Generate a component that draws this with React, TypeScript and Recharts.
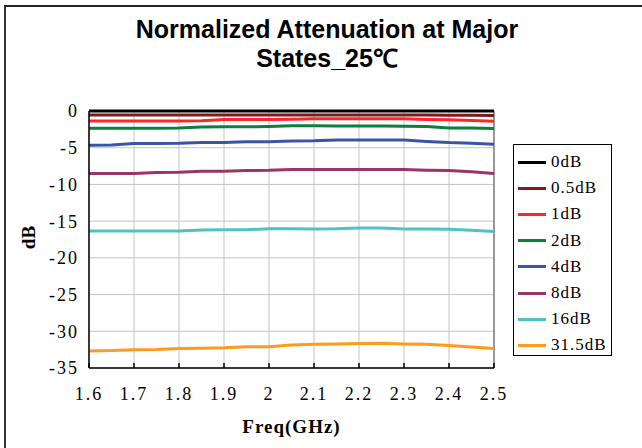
import { LineChart, Line, XAxis, YAxis, CartesianGrid, Legend, ReferenceLine, Label } from "recharts";

// frequency points (GHz)
const freqs = [1.6, 1.65, 1.7, 1.75, 1.8, 1.85, 1.9, 1.95, 2.0, 2.05, 2.1, 2.15, 2.2, 2.25, 2.3, 2.35, 2.4, 2.45, 2.5];

// normalized attenuation (dB) per state
const att0 = [0, 0, 0, 0, 0, 0, 0, 0, 0, 0, 0, 0, 0, 0, 0, 0, 0, 0, 0];
const att05 = [-0.56, -0.56, -0.56, -0.55, -0.55, -0.55, -0.55, -0.55, -0.55, -0.55, -0.55, -0.55, -0.55, -0.55, -0.55, -0.56, -0.57, -0.58, -0.6];
const att1 = [-1.35, -1.35, -1.35, -1.35, -1.35, -1.33, -1.17, -1.16, -1.15, -1.12, -1.07, -1.07, -1.07, -1.07, -1.07, -1.15, -1.2, -1.3, -1.4];
const att2 = [-2.35, -2.35, -2.35, -2.35, -2.33, -2.17, -2.16, -2.15, -2.1, -2.0, -2.02, -2.05, -2.05, -2.05, -2.06, -2.12, -2.3, -2.33, -2.4];
const att4 = [-4.66, -4.62, -4.43, -4.43, -4.4, -4.3, -4.3, -4.2, -4.2, -4.08, -4.05, -3.95, -3.94, -3.94, -3.96, -4.15, -4.3, -4.38, -4.53];
const att8 = [-8.52, -8.52, -8.5, -8.36, -8.35, -8.22, -8.2, -8.1, -8.08, -7.98, -7.98, -7.97, -7.97, -7.97, -7.98, -8.08, -8.12, -8.28, -8.5];
const att16 = [-16.35, -16.35, -16.35, -16.35, -16.33, -16.2, -16.18, -16.17, -16.05, -16.05, -16.07, -16.05, -15.92, -15.93, -16.07, -16.07, -16.1, -16.25, -16.4];
const att315 = [-32.67, -32.62, -32.5, -32.48, -32.35, -32.3, -32.25, -32.12, -32.1, -31.88, -31.75, -31.72, -31.65, -31.62, -31.72, -31.78, -31.95, -32.15, -32.35];

const seriesNames = ["0dB", "0.5dB", "1dB", "2dB", "4dB", "8dB", "16dB", "31.5dB"];
const seriesValues = [att0, att05, att1, att2, att4, att8, att16, att315];
const seriesColors = ["#000000", "#7d1a1a", "#ff2626", "#0e7d3e", "#3a55a6", "#9c3468", "#4cc4c4", "#ff9a1e"];

const xTicks = [1.6, 1.7, 1.8, 1.9, 2, 2.1, 2.2, 2.3, 2.4, 2.5];
const yTicks = [0, -5, -10, -15, -20, -25, -30, -35];

const data = freqs.map((f, i) => {
  const row: Record<string, number> = { freq: f };
  seriesNames.forEach((name, s) => {
    row[name] = seriesValues[s][i];
  });
  return row;
});

const serif = "'Liberation Serif', serif";
const tickStyle = { fontFamily: serif, fontSize: 18, fill: "#000", letterSpacing: 2 };

function renderLegend(props: any) {
  // keep the series order, not alphabetical
  const items = [...(props.payload || [])].sort(
    (a: any, b: any) => seriesNames.indexOf(a.value) - seriesNames.indexOf(b.value)
  );
  return (
    <div
      style={{
        boxSizing: "border-box",
        width: 99,
        height: 212,
        border: "1px solid #000",
        background: "#fff",
        padding: "4px 0 0 4px",
      }}
    >
      {items.map((it: any) => (
        <div key={it.value} style={{ display: "flex", alignItems: "center", height: 26.2 }}>
          <span style={{ display: "inline-block", width: 28, height: 3, background: it.color }} />
          <span style={{ marginLeft: 5, fontFamily: serif, fontSize: 17, letterSpacing: 1, color: "#000" }}>
            {it.value}
          </span>
        </div>
      ))}
    </div>
  );
}

function YLabel(props: any) {
  const vb = props.viewBox || {};
  const x = vb.x + 28;
  const y = vb.y + vb.height / 2 - 2;
  return (
    <text
      x={x}
      y={y}
      transform={`rotate(-90, ${x}, ${y})`}
      textAnchor="middle"
      dominantBaseline="central"
      style={{ fontFamily: serif, fontSize: 19, fontWeight: "bold", fill: "#000" }}
    >
      dB
    </text>
  );
}

export default function App() {
  return (
    <div style={{ position: "fixed", left: 0, top: 0, width: 642, height: 448, background: "#fff", overflow: "hidden" }}>
      <div
        style={{
          position: "absolute",
          left: 4,
          top: 5,
          width: 700,
          height: 500,
          borderLeft: "2px solid #333",
          borderTop: "2px solid #222",
        }}
      />
      <div
        style={{
          position: "absolute",
          left: 0,
          top: 15,
          width: 654,
          textAlign: "center",
          fontFamily: "'Liberation Sans', Arial, sans-serif",
          fontWeight: "bold",
          fontSize: 25,
          lineHeight: "29px",
          color: "#000",
        }}
      >
        Normalized Attenuation at Major
        <br />
        States_25℃
      </div>
      <div style={{ position: "absolute", left: 0, top: 0 }}>
        <LineChart width={642} height={448} data={data} margin={{ top: 111, right: 49, left: 0, bottom: 30 }}>
          <CartesianGrid stroke="#c4c4c4" strokeWidth={1} />
          <XAxis
            dataKey="freq"
            type="number"
            domain={[1.6, 2.5]}
            ticks={xTicks}
            tickFormatter={(v: number) => String(v)}
            height={50}
            axisLine={{ stroke: "#000", strokeWidth: 1.5 }}
            tickLine={{ stroke: "#000", strokeWidth: 1.5 }}
            tickSize={-5}
            tickMargin={24}
            tick={tickStyle}
            interval={0}
          >
            <Label
              value="Freq(GHz)"
              position="bottom"
              offset={2}
              style={{ fontFamily: serif, fontSize: 19, fontWeight: "bold", fill: "#000", letterSpacing: 1 }}
            />
          </XAxis>
          <YAxis
            type="number"
            domain={[-35, 0]}
            ticks={yTicks}
            width={89}
            axisLine={{ stroke: "#000", strokeWidth: 1.5 }}
            tickLine={false}
            tickSize={0}
            tickMargin={10}
            tick={tickStyle}
            interval={0}
          >
            <Label content={<YLabel />} />
          </YAxis>
          <ReferenceLine x={2.5} stroke="#808080" strokeWidth={1.5} />
          <Legend
            layout="vertical"
            align="right"
            verticalAlign="middle"
            content={renderLegend}
            wrapperStyle={{ left: 513, top: 144, right: "auto", width: 99 }}
          />
          {seriesNames.map((name, i) => (
            <Line
              key={name}
              type="linear"
              dataKey={name}
              stroke={seriesColors[i]}
              strokeWidth={3}
              dot={false}
              isAnimationActive={false}
            />
          ))}
        </LineChart>
      </div>
    </div>
  );
}
